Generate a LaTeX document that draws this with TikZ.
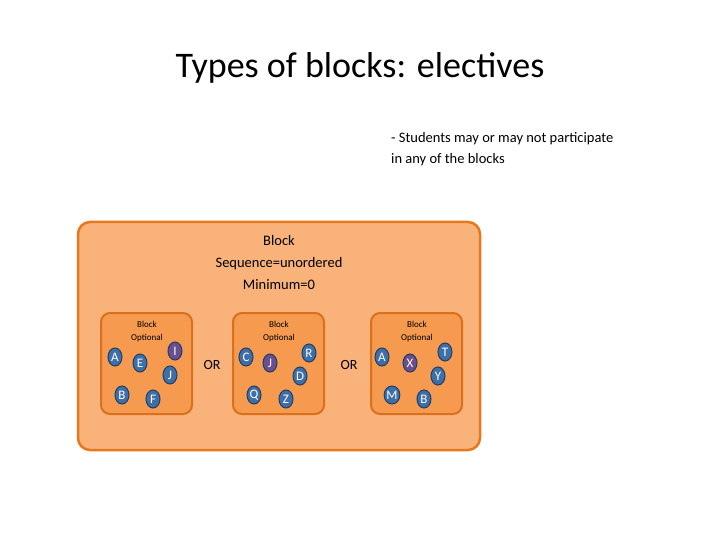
\documentclass[tikz,border=0pt]{standalone}
\usepackage{fontspec}
\setmainfont{Carlito}
\usetikzlibrary{shapes.geometric}
\definecolor{outerfill}{HTML}{F8B27A}
\definecolor{outerdraw}{HTML}{E8781E}
\definecolor{innerfill}{HTML}{F59A4E}
\definecolor{innerdraw}{HTML}{D9701E}
\definecolor{bluefill}{HTML}{3E6FA8}
\definecolor{bluedraw}{HTML}{1F3F66}
\definecolor{purplefill}{HTML}{6B4E8E}
\begin{document}
\begin{tikzpicture}[x=1pt,y=-1pt,
  outerbox/.style={draw=outerdraw,fill=outerfill,line width=2.5pt,rounded corners=12pt},
  innerbox/.style={draw=innerdraw,fill=innerfill,line width=2pt,rounded corners=9pt},
  lbl/.style={font=\fontsize{9}{11}\selectfont,align=center,inner sep=0pt},
  ball/.style={ellipse,fill=bluefill,draw=bluedraw,line width=1pt,minimum width=14pt,minimum height=18pt,inner sep=0pt,text=white,font=\fontsize{13}{13}\selectfont},
  pball/.style={ball,fill=purplefill},
  ortext/.style={font=\fontsize{14}{14}\selectfont}]
\useasboundingbox (0,0) rectangle (720,540);
\fill[white] (0,0) rectangle (720,540);
\node (title) at (360,68) {\fontsize{36}{40}\selectfont Types of blocks: electives};
\node[align=left,anchor=north west,font=\fontsize{14.5}{21}\selectfont,inner sep=0pt] (note) at (391,132) {- Students may or may not participate\\in any of the blocks};
\draw[outerbox] (78,222) rectangle (480,450);
\node[align=center,font=\fontsize{14.5}{22}\selectfont,inner sep=0pt] (blk) at (279,263) {Block\\Sequence=unordered\\Minimum=0};
\foreach \x/\n in {101/b1,233/b2,371/b3}{
  \draw[innerbox] (\x,313) rectangle (\x+91,414);
}
\node[lbl] (l1) at (147,332) {Block\\[2pt]Optional};
\node[lbl] (l2) at (279,332) {Block\\[2pt]Optional};
\node[lbl] (l3) at (417,332) {Block\\[2pt]Optional};
\node[ortext] (or1) at (212,365) {OR};
\node[ortext] (or2) at (349,365) {OR};
% box 1
\node[ball] (a1) at (115,357) {A};
\node[ball] (e1) at (140,363) {E};
\node[pball] (i1) at (175,351) {I};
\node[ball] (j1) at (170,375) {J};
\node[ball] (b1) at (122,395) {B};
\node[ball] (f1) at (153,399) {F};
% box 2
\node[ball] (c2) at (246,357) {C};
\node[pball] (j2) at (270,363) {J};
\node[ball] (r2) at (309,353) {R};
\node[ball] (d2) at (300,376) {D};
\node[ball] (q2) at (254,395) {Q};
\node[ball] (z2) at (286,399) {Z};
% box 3
\node[ball] (a3) at (382,357) {A};
\node[pball] (x3) at (410,363) {X};
\node[ball] (t3) at (445,352) {T};
\node[ball] (y3) at (438,376) {Y};
\node[ball] (m3) at (392,395) {M};
\node[ball] (b3) at (424,399) {B};
\end{tikzpicture}
\end{document}
